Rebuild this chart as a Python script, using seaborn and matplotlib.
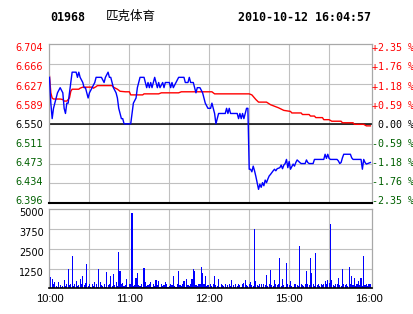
import matplotlib
matplotlib.use("Agg")
import matplotlib.pyplot as plt
import seaborn as sns

# ---------------- data ----------------
code = "01968"
name = "匹克体育"
stamp = "2010-10-12 16:04:57"
prev_close = 6.55

left_labels = ["6.704", "6.666", "6.627", "6.589", "6.550", "6.511", "6.473", "6.434", "6.396"]
pct_labels = ["+2.35 %", "+1.76 %", "+1.18 %", "+0.59 %", " 0.00 %",
              "-0.59 %", "-1.18 %", "-1.76 %", "-2.35 %"]
price_top, price_bottom = 6.704, 6.396
vol_ticks = [1250, 2500, 3750, 5000]
vol_labels = ["1250", "2500", "3750", "5000"]
time_pos = [0, 60, 120, 180, 240]
time_labels = ["10:00", "11:00", "12:00", "15:00", "16:00"]

# minute index (10:00 = 0, 12:30/14:30 = 150, 16:00 = 240) and last price
price_min = [0, 1, 2, 3, 4, 5, 6, 8, 10, 11, 12, 13, 14, 15, 16, 17, 20, 21, 22, 23,
             25, 26, 27, 28, 29, 30, 32, 34, 35, 39, 41, 42, 44, 45, 46, 47, 48, 50, 51, 52,
             53, 54, 55, 56, 61, 62, 63, 65, 66, 67, 68, 71, 72, 73, 74, 75, 76, 77, 78, 79,
             80, 81, 82, 83, 85, 86, 87, 90, 91, 92, 93, 95, 97, 101, 102, 104, 105, 106, 108, 110,
             111, 113, 115, 116, 117, 119, 121, 122, 123, 124, 125, 126, 127, 132, 133, 134, 135, 136, 141, 142,
             143, 144, 145, 146, 147, 148, 149,
             150, 151, 152, 153, 154, 155, 156, 157, 158, 159, 160, 161, 162, 163, 164, 165, 166, 168, 169, 170,
             171, 173, 174, 175, 176, 177, 178, 179, 180, 181, 183, 184, 185, 186, 188, 189, 192, 193, 194, 195,
             198, 199, 206, 207, 208, 209, 210, 211, 216, 217, 218, 219, 220, 221, 226, 227, 228, 234, 235, 236,
             237, 238, 239, 241]
price_val = [6.64, 6.59, 6.56, 6.58, 6.59, 6.60, 6.61, 6.62, 6.61, 6.58, 6.57, 6.59, 6.59, 6.61, 6.63, 6.65, 6.65, 6.64, 6.65, 6.64,
             6.63, 6.62, 6.62, 6.61, 6.60, 6.61, 6.62, 6.63, 6.64, 6.64, 6.63, 6.64, 6.65, 6.64, 6.64, 6.63, 6.62, 6.61, 6.60, 6.58,
             6.57, 6.56, 6.56, 6.55, 6.55, 6.57, 6.59, 6.60, 6.62, 6.63, 6.64, 6.64, 6.63, 6.62, 6.63, 6.62, 6.63, 6.62, 6.63, 6.64,
             6.63, 6.62, 6.63, 6.62, 6.63, 6.62, 6.63, 6.63, 6.62, 6.63, 6.62, 6.63, 6.64, 6.64, 6.63, 6.63, 6.64, 6.63, 6.63, 6.61,
             6.62, 6.62, 6.61, 6.60, 6.59, 6.58, 6.58, 6.59, 6.58, 6.57, 6.55, 6.56, 6.57, 6.57, 6.58, 6.57, 6.58, 6.57, 6.57, 6.56,
             6.57, 6.56, 6.57, 6.56, 6.57, 6.58, 6.58,
             6.462, 6.462, 6.457, 6.468, 6.459, 6.448, 6.436, 6.423, 6.433, 6.427, 6.436, 6.430, 6.441, 6.436, 6.443, 6.449, 6.452, 6.459, 6.462, 6.459,
             6.463, 6.465, 6.470, 6.463, 6.470, 6.473, 6.481, 6.465, 6.477, 6.462, 6.472, 6.468, 6.475, 6.480, 6.475, 6.473, 6.473, 6.480, 6.475, 6.473,
             6.473, 6.481, 6.481, 6.491, 6.483, 6.491, 6.483, 6.481, 6.481, 6.478, 6.473, 6.475, 6.484, 6.491, 6.491, 6.484, 6.481, 6.481, 6.462, 6.481,
             6.475, 6.472, 6.473, 6.475]

# average price line
avg_min = [0, 1, 2, 3, 8, 10, 11, 13, 15, 16, 17, 22, 23, 25, 32, 33, 35, 36, 47, 48,
           51, 53, 57, 60, 61, 70, 71, 82, 84, 97, 99, 122, 124, 150, 152, 155, 157, 163, 166, 169,
           172, 176, 181, 182, 189, 190, 195, 196, 199, 200, 205, 206, 210, 212, 219, 220, 228, 229, 236, 238,
           241]
avg_val = [6.642, 6.610, 6.600, 6.598, 6.598, 6.597, 6.594, 6.594, 6.600, 6.613, 6.617, 6.617, 6.619, 6.621, 6.621, 6.619, 6.622, 6.624, 6.624, 6.621,
           6.617, 6.613, 6.612, 6.612, 6.606, 6.606, 6.608, 6.608, 6.610, 6.610, 6.612, 6.612, 6.608, 6.608, 6.606, 6.597, 6.592, 6.592, 6.587, 6.584,
           6.581, 6.576, 6.574, 6.571, 6.571, 6.568, 6.568, 6.565, 6.565, 6.562, 6.562, 6.558, 6.558, 6.555, 6.555, 6.552, 6.552, 6.549, 6.549, 6.546,
           6.546]

# volume per minute (minute 0..241)
volume = [570, 700, 600, 250, 400, 150, 100, 400, 200, 80, 150, 500, 120, 250, 1200, 200, 300, 2020, 150, 250,
          450, 120, 200, 580, 300, 760, 200, 350, 1520, 150, 300, 100, 250, 150, 420, 300, 100, 1200, 420, 200,
          150, 250, 100, 1030, 200, 300, 760, 150, 890, 200, 420, 150, 2300, 1100, 250, 320, 150, 200, 600, 100,
          250, 300, 4790, 150, 200, 640, 1000, 200, 150, 250, 100, 1310, 420, 150, 200, 300, 420, 100, 250, 150,
          500, 200, 450, 100, 300, 150, 200, 420, 250, 100, 150, 300, 200, 760, 150, 100, 250, 1090, 200, 150,
          300, 450, 100, 570, 200, 150, 250, 570, 1250, 1100, 200, 150, 300, 250, 1330, 1000, 300, 760, 150, 200,
          100, 250, 150, 300, 760, 200, 150, 570, 100, 250, 200, 150, 300, 100, 200, 250, 150, 500, 200, 100,
          250, 150, 300, 200, 100, 250, 350, 500, 200, 150, 300, 420, 200, 150, 3730, 450, 200, 150, 300, 250,
          100, 300, 200, 830, 150, 300, 1140, 200, 150, 500, 250, 200, 300, 1920, 150, 570, 200, 100, 1600, 300,
          200, 450, 150, 100, 250, 300, 200, 150, 2660, 300, 200, 150, 250, 1100, 300, 200, 1920, 1000, 300, 150,
          2240, 200, 300, 150, 250, 200, 300, 480, 250, 500, 350, 4050, 500, 200, 150, 300, 250, 630, 200, 150,
          1200, 300, 200, 250, 150, 1350, 300, 760, 200, 630, 150, 250, 450, 200, 630, 150, 2020, 200, 250, 150,
          300, 250]
vol_min = list(range(len(volume)))

# ---------------- style ----------------
plt.rcParams['font.family'] = ['DejaVu Sans']
RED = '#ff0000'
GREEN = '#006000'
BLUE = '#0000ff'
GRID = '#c0c0c0'
FRAME = '#a8a8a8'

W, H = 414, 314
fig = plt.figure(figsize=(W / 100, H / 100), dpi=100)


def rect(l, t, r, b):
    return [l / W, 1 - b / H, (r - l) / W, (b - t) / H]


ax = fig.add_axes(rect(49.5, 44.3, 371.7, 203.3))
axv = fig.add_axes(rect(49.5, 209.3, 371.7, 288.3))
XMAX = 242
grid_x = [30, 60, 90, 120, 150, 180, 210]

# ---- price panel ----
step = (price_top - price_bottom) / 8
grid_y = [price_top - k * step for k in range(9)]
# labels sit slightly inside the panel at the top and bottom, as in the original
label_y = [prev_close + (g - prev_close) * 0.962 for g in grid_y]
for y in grid_y[1:-1]:
    ax.axhline(y, color=GRID, lw=0.8, zorder=0.5)
for x in grid_x:
    ax.axvline(x, color=GRID, lw=0.8, zorder=0.5)
ax.axhline(prev_close, color='black', lw=1.1, zorder=1)

sns.lineplot(x=avg_min, y=avg_val, ax=ax, color=RED, lw=1.0, zorder=2)
sns.lineplot(x=price_min, y=price_val, ax=ax, color=BLUE, lw=1.0, zorder=3)

ax.set_xlim(0, XMAX)
ax.set_ylim(price_bottom, price_top)
ax.set_xticks([])
ax.set_yticks(label_y)
ax.set_yticklabels(left_labels, fontsize=7)
ax.tick_params(axis='y', length=0, pad=4.6)


def colour_labels(labels):
    for lab, g in zip(labels, grid_y):
        if g > prev_close + 1e-6:
            lab.set_color(RED)
        elif g < prev_close - 1e-6:
            lab.set_color(GREEN)
        else:
            lab.set_color('black')


colour_labels(ax.get_yticklabels())
ax.set_xlabel('')
ax.set_ylabel('')
for s in ['left', 'top', 'right']:
    ax.spines[s].set_color(FRAME)
    ax.spines[s].set_linewidth(0.9)
ax.spines['bottom'].set_color('black')
ax.spines['bottom'].set_linewidth(1.5)

ax2 = ax.twinx()
ax2.set_ylim(price_bottom, price_top)
ax2.set_yticks(label_y)
ax2.set_yticklabels(pct_labels, fontsize=7.2, family='DejaVu Sans Mono')
ax2.tick_params(axis='y', length=0, pad=0.5)
colour_labels(ax2.get_yticklabels())
for s in ax2.spines.values():
    s.set_visible(False)

# ---- volume panel ----
for y in vol_ticks[:-1]:
    axv.axhline(y, color=GRID, lw=0.8, zorder=0.5)
for x in grid_x:
    axv.axvline(x, color=GRID, lw=0.8, zorder=0.5)
sns.barplot(x=vol_min, y=volume, ax=axv, native_scale=True, color=BLUE,
            saturation=1, width=0.85, linewidth=0, errorbar=None, zorder=2)
axv.set_xlim(0, XMAX)
axv.set_ylim(0, 5000)
vol_label_pos = [v - 190 for v in vol_ticks]   # labels sit ~3 px below their gridlines
axv.set_yticks(vol_label_pos)
axv.set_yticklabels(vol_labels, fontsize=7)
axv.set_xticks(time_pos)
axv.set_xticklabels(time_labels, fontsize=8, family='Liberation Sans')
axv.tick_params(length=0)
axv.tick_params(axis='y', pad=4.2)
axv.tick_params(axis='x', pad=4.2)
axv.set_xlabel('')
axv.set_ylabel('')
for s in ['left', 'top', 'right']:
    axv.spines[s].set_color(FRAME)
    axv.spines[s].set_linewidth(0.9)
axv.spines['bottom'].set_color('black')
axv.spines['bottom'].set_linewidth(1.2)

# ---- header ----
fig.text(50 / W, 1 - 20.7 / H, code, fontsize=8.4, family='DejaVu Sans Mono',
         weight='bold', va='baseline', ha='left')
fig.text(106 / W, 1 - 19.5 / H, name, fontsize=9, family=['Noto Sans CJK SC', 'DejaVu Sans'],
         va='baseline', ha='left')
fig.text(237.7 / W, 1 - 20.7 / H, stamp, fontsize=8.4, family='DejaVu Sans Mono',
         weight='bold', va='baseline', ha='left')

fig.savefig('out.png', dpi=100)
